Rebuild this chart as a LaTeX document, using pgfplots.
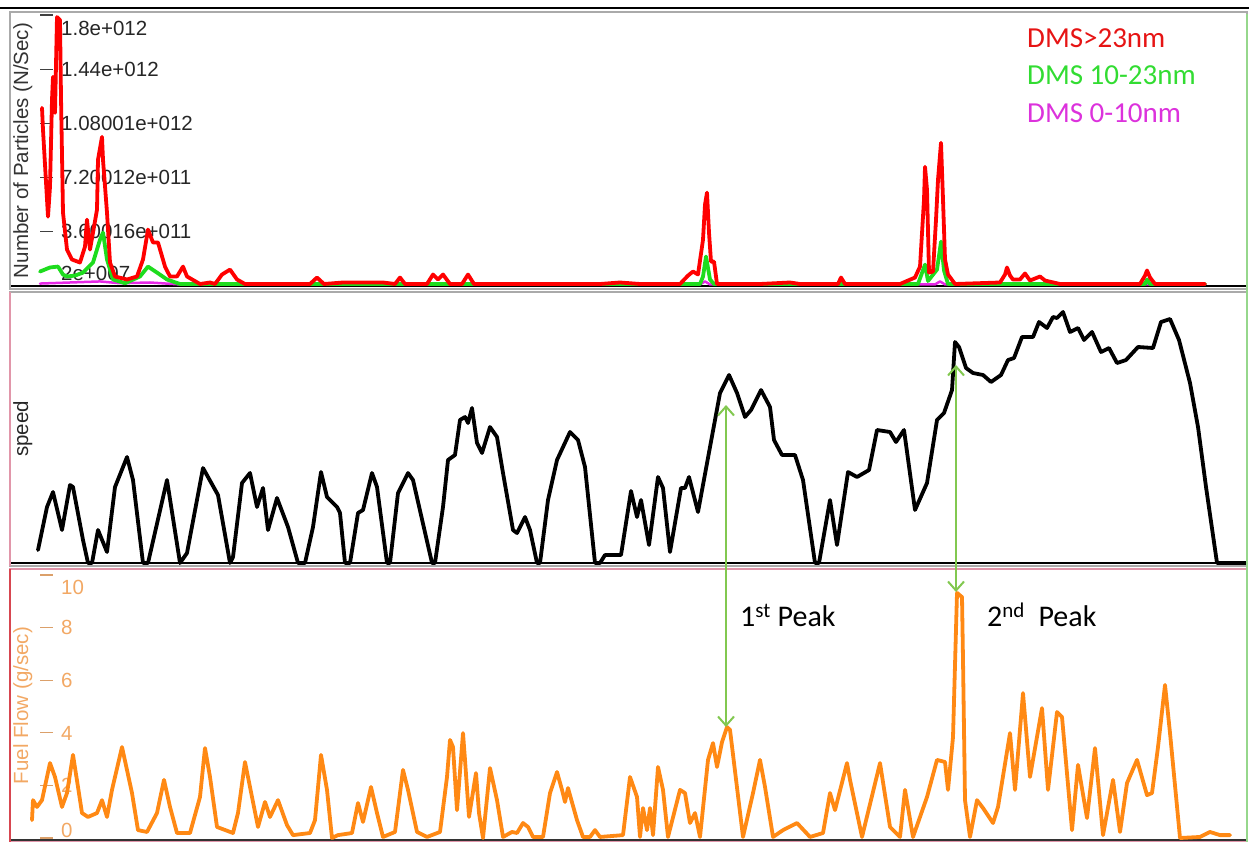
\documentclass[border=0pt]{standalone}
\usepackage{fontspec}
\setmainfont{Liberation Sans}
\newfontfamily\calibri{Carlito}
\usepackage{pgfplots}
\pgfplotsset{compat=1.18}
\usetikzlibrary{arrows.meta}

\definecolor{dmsred}{RGB}{255,0,0}
\definecolor{dmsgreen}{RGB}{30,220,30}
\definecolor{dmsmag}{RGB}{230,40,230}
\definecolor{fuel}{RGB}{255,137,20}
\definecolor{fuellabel}{RGB}{242,168,100}
\definecolor{peakgreen}{RGB}{130,200,80}
\definecolor{legred}{RGB}{230,20,20}
\definecolor{leggreen}{RGB}{50,220,50}
\definecolor{legmag}{RGB}{220,50,220}
\definecolor{framegray}{RGB}{170,170,170}
\definecolor{framepink}{RGB}{225,150,170}
\definecolor{framered}{RGB}{215,70,80}
\definecolor{framegreen}{RGB}{150,215,140}

\pgfplotsset{
  panel/.style={
    scale only axis, width=1237bp, xmin=10, xmax=1247,
    axis line style={draw=none}, xtick=\empty,
    tick align=inside, major tick length=13bp,
    ytick style={xshift=30bp, line width=1.2bp},
    yticklabel style={anchor=base west, inner sep=0pt, xshift=51bp, yshift=-7.2bp,
      font=\fontsize{20.5bp}{24bp}\selectfont},
    every axis y label/.style={at={(axis description cs:0.0024,0.5)}, rotate=90,
      anchor=north, inner sep=0pt, font=\fontsize{20.5bp}{24bp}\selectfont},
    every axis plot/.append style={line join=round, line cap=round, line width=3.8bp},
  },
}

\begin{document}
\begin{tikzpicture}
\path[use as bounding box] (0,0) rectangle (1249bp,-842bp);

% ---------------- particle number ----------------
\begin{axis}[panel, at={(10bp,-289bp)}, height=277bp, ymin=-0.233, ymax=18.2,
  ytick={0.0002,3.60016,7.20012,10.8001,14.4,18},
  yticklabels={\raisebox{12.5bp}{2e+007},3.60016e+011,7.20012e+011,1.08001e+012,1.44e+012,\raisebox{-13bp}{1.8e+012}},
  ytick style={color=black!75},
  yticklabel style={text=black!85},
  ylabel={Number of Particles (N/Sec)}, ylabel style={text=black!80},
  legend image code/.code={},
  reverse legend,
  legend cell align=left,
  legend style={draw=none, fill=none, at={(axis cs:1024,17.4)}, anchor=north west,
    font=\calibri\fontsize{29bp}{35bp}\selectfont, row sep=7.5bp,
    nodes={inner sep=0pt, text height=21bp, text depth=9bp}},
]
\draw[black, line width=2bp] (axis cs:10,0) -- (axis cs:1247,0);
\addplot[dmsmag, line width=2.5bp] coordinates {
(40,0.13)(70,0.2)(100,0.27)(120,0.15)(150,0.2)(180,0.07)(700,0.07)(705,0.27)(710,0.07)
(935,0.07)(940,0.27)(945,0.07)(1205,0.07)};
\addlegendentry{\textcolor{legmag}{DMS 0-10nm}}
\addplot[dmsgreen] coordinates {
(40,0.93)(50,1.20)(58,1.26)(63,0.73)(67,0.60)(75,0.66)(83,0.86)(93,1.53)(100,3.05)(103,3.52)
(107,1.73)(113,0.40)(125,0.15)(140,0.60)(148,1.26)(157,0.86)(167,0.40)(180,0.1)(700,0.1)
(703,0.6)(706,1.93)(710,0.4)(714,0.1)(918,0.1)(925,1.39)(928,0.3)(937,1.06)(941,2.92)
(944,1.0)(948,0.1)(1145,0.1)(1147,0.4)(1150,0.1)(1205,0.1)};
\addlegendentry{\textcolor{leggreen}{DMS 10-23nm}}
\addplot[dmsred] coordinates {
(42,11.82)(43,10.36)(48,4.58)(50,6.57)(52,12.35)(53,13.88)(55,11.49)(57,17.86)(60,17.66)
(61,12.55)(63,4.85)(67,2.39)(72,1.73)(80,1.53)(85,2.59)(87,4.38)(90,2.39)(93,3.52)(97,5.05)
(98,8.37)(102,9.89)(103,8.37)(107,4.85)(110,1.53)(115,0.60)(127,0.40)(137,0.60)(143,1.73)
(148,3.72)(153,2.86)(158,2.86)(165,1.26)(170,0.60)(177,0.60)(183,1.26)(187,0.60)(200,0.1)
(210,0.2)(215,0.1)(222,0.73)(230,1.06)(237,0.4)(245,0.1)(310,0.1)(317,0.53)(324,0.1)
(343,0.2)(383,0.2)(395,0.1)(400,0.53)(405,0.1)(427,0.1)(433,0.73)(438,0.4)(443,0.73)
(450,0.1)(462,0.1)(468,0.73)(474,0.1)(600,0.1)(620,0.2)(640,0.1)(680,0.1)(688,0.66)
(693,0.93)(698,0.73)(703,3.05)(705,5.38)(707,6.18)(709,3.52)(711,1.59)(714,1.59)(717,0.1)
(760,0.1)(790,0.2)(800,0.1)(838,0.1)(841,0.53)(845,0.1)(900,0.1)(915,0.53)(920,1.26)
(924,5.71)(925,7.90)(927,6.37)(929,0.86)(933,0.93)(936,4.38)(938,7.04)(941,9.50)(943,5.71)
(945,1.73)(948,0.73)(955,0.1)(1000,0.2)(1005,0.73)(1007,1.20)(1010,0.66)(1013,0.4)
(1020,0.4)(1025,0.80)(1030,0.33)(1040,0.60)(1045,0.33)(1060,0.1)(1140,0.1)(1145,0.66)
(1147,1.0)(1150,0.53)(1155,0.1)(1205,0.1)};
\addlegendentry{\textcolor{legred}{DMS>23nm}}
\end{axis}

% ---------------- vehicle speed ----------------
\begin{axis}[panel, at={(10bp,-566bp)}, height=274bp, ymin=-1.5, ymax=135.5,
  ytick=\empty, ylabel={speed}, ylabel style={text=black!85}]
\draw[black, line width=2.5bp] (axis cs:10,0) -- (axis cs:1247,0);
\addplot[black] coordinates {
(38,6.5)(47,28)(53,35.5)(62,16.5)(70,39)(73,38)(83,11.5)(88,0)(92,0)(98,16.5)(107,5.5)
(115,38)(127,53)(133,41.5)(143,0)(148,0)(167,41.5)(180,0)(187,5)(203,47.5)(218,34)(230,0)
(233,3)(242,40)(250,45)(257,28)(263,37.5)(268,16.5)(277,32.5)(288,18)(298,0)(305,0)
(313,18)(321,45.5)(327,33)(337,28)(340,25)(345,0)(350,0)(358,25)(363,26.5)(372,45)(377,38)
(387,0)(390,0)(398,35)(408,45)(413,41.5)(432,0)(435,0)(443,28)(448,51.5)(455,54)(460,71.5)
(465,73)(468,70)(472,77.5)(477,60)(482,55)(490,68)(497,63)(503,45)(513,16.5)(517,15)
(525,23)(530,16.5)(537,0)(540,0)(548,31.5)(557,51.5)(570,65.5)(578,61.5)(585,48)(595,0)
(600,0)(605,4)(621,4)(631,36)(637,23)(641,31.5)(649,9)(658,43)(663,37.5)(670,5.5)
(681,37.5)(685,37.5)(689,43)(698,25.5)(710,58)(720,85)(729,94)(737,85)(745,73)(751,76.5)
(761,86.5)(770,78)(774,61.5)(782,54)(795,54)(803,41.5)(815,0)(819,0)(830,31.5)(837,9)
(848,45.5)(857,43)(869,46.5)(877,66.5)(890,65.5)(896,60.5)(904,66.5)(915,26.5)(927,40)
(937,71.5)(944,75)(952,86.5)(955,110.5)(959,108)(966,97.5)(973,95)(983,94)(991,90.5)
(1001,94)(1008,101.5)(1014,102.5)(1022,113)(1033,113)(1039,120.5)(1047,117.5)(1053,123)
(1057,122.5)(1063,125.5)(1070,115.5)(1078,117.5)(1084,111.5)(1092,115.5)(1101,105.5)
(1109,107.5)(1117,100)(1126,101.5)(1138,108)(1153,107.5)(1161,120.5)(1170,122)(1179,111.5)
(1190,90)(1198,68)(1206,38)(1217,0)(1247,0)};
\end{axis}

% ---------------- fuel flow ----------------
\begin{axis}[panel, at={(10bp,-842bp)}, height=273bp, ymin=-0.152, ymax=10.228,
  ytick={0,2,4,6,8,10},
  yticklabels={\raisebox{8bp}{0},2,4,6,8,\raisebox{-12bp}{10}},
  ytick style={color=fuellabel!80!gray},
  yticklabel style={text=fuellabel},
  ylabel={Fuel Flow (g/sec)}, ylabel style={text=fuellabel}]
\draw[black!80, line width=2bp] (axis cs:10,-0.08) -- (axis cs:1247,-0.08);
\addplot[fuel] coordinates {
(32,0.68)(33,1.44)(37,1.18)(42,1.44)(50,2.85)(55,2.32)(62,1.18)(67,1.71)(73,3.16)(78,1.94)
(82,0.95)(88,0.80)(97,0.95)(102,1.44)(107,0.80)(112,1.83)(122,3.46)(132,1.71)(138,0.30)
(147,0.23)(157,0.95)(164,2.21)(170,1.18)(177,0.19)(190,0.19)(200,1.56)(205,3.42)(210,2.32)
(217,0.42)(233,0.19)(238,0.95)(245,2.89)(252,1.56)(258,0.42)(265,1.37)(270,0.80)(278,1.44)
(287,0.49)(293,0.11)(310,0.19)(315,0.68)(321,3.16)(327,1.83)(332,0)(338,0.11)(352,0.19)
(358,1.33)(363,0.61)(371,1.94)(377,0.95)(383,0.04)(395,0.23)(403,2.59)(408,1.83)(417,0.23)
(427,0.04)(440,0.23)(447,2.32)(450,3.73)(453,3.46)(457,1.06)(463,3.99)(465,2.97)(469,0.80)
(476,2.47)(479,0.95)(483,0)(490,2.66)(497,1.44)(503,0.04)(512,0.23)(517,0.19)(523,0.57)
(528,0.42)(533,0.04)(543,0.04)(550,1.71)(557,2.51)(562,1.83)(565,1.37)(568,1.90)(577,0.68)
(583,0.04)(590,0.04)(595,0.30)(600,0.04)(623,0.11)(630,2.32)(637,1.56)(640,0.04)(643,1.14)
(647,0.30)(650,1.14)(653,0.11)(658,2.70)(663,1.83)(668,0.04)(680,1.83)(685,1.71)(690,0.57)
(695,0.95)(700,0.04)(708,2.97)(713,3.61)(717,2.70)(722,3.65)(727,4.22)(730,4.11)(743,0.04)
(753,1.71)(760,2.97)(765,1.94)(773,0.04)(783,0.30)(797,0.57)(810,0.04)(823,0.19)(830,1.71)
(835,1.06)(847,2.85)(850,2.21)(862,0.04)(880,2.85)(890,0.42)(900,0.04)(905,1.83)(913,0.04)
(927,1.56)(937,2.97)(945,2.89)(948,1.83)(953,3.84)(957,9.32)(962,9.16)(963,6.77)(965,1.44)
(970,0.04)(977,1.44)(983,1.14)(993,0.57)(998,1.18)(1010,3.99)(1015,1.83)(1023,5.51)
(1030,2.32)(1042,4.94)(1048,1.83)(1057,4.79)(1062,4.60)(1072,0.30)(1078,2.78)(1087,0.76)
(1095,3.42)(1103,0.11)(1113,2.21)(1120,0.23)(1127,2.09)(1137,2.97)(1147,1.63)(1152,1.71)
(1158,3.46)(1165,5.82)(1170,3.99)(1180,0)(1200,0.04)(1210,0.23)(1220,0.11)(1230,0.11)};
\end{axis}

% ---------------- panel frames ----------------
\draw[black, line width=2bp] (0,-8bp) -- (1249bp,-8bp);
\draw[framegray, line width=1.5bp] (10bp,-12bp) rectangle (1247bp,-289bp);
\draw[framegray, line width=1.5bp] (10bp,-292bp) rectangle (1247bp,-566bp);
\draw[framepink, line width=1.5bp] (10bp,-566bp) -- (10bp,-292bp);
\draw[framepink, line width=2bp] (10bp,-569bp) rectangle (1247bp,-842bp);
\draw[framered, line width=1.5bp] (10bp,-569bp) -- (10bp,-842bp);
\draw[framegreen, line width=1.5bp] (1247bp,-14bp) -- (1247bp,-842bp);

% ---------------- peak markers ----------------
\draw[peakgreen, line width=2bp, {Straight Barb[length=9bp,width=16bp]}-{Straight Barb[length=9bp,width=16bp]}]
  (726bp,-405bp) -- (726bp,-727bp);
\draw[peakgreen, line width=2bp, {Straight Barb[length=9bp,width=16bp]}-{Straight Barb[length=9bp,width=16bp]}]
  (956bp,-365bp) -- (956bp,-592bp);
\node[anchor=base west, inner sep=0pt, font=\calibri\fontsize{30bp}{36bp}\selectfont]
  at (740bp,-626bp) {1\textsuperscript{st} Peak};
\node[anchor=base west, inner sep=0pt, font=\calibri\fontsize{30bp}{36bp}\selectfont]
  at (987bp,-626bp) {2\textsuperscript{nd}\ \ Peak};
\end{tikzpicture}
\end{document}
